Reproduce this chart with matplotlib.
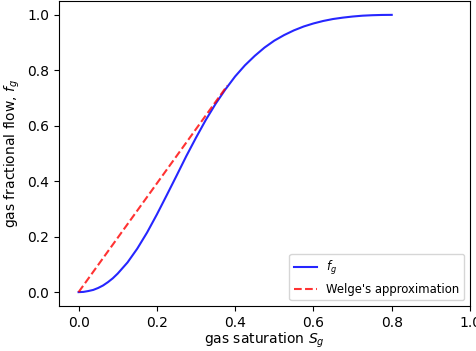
import numpy as np
import matplotlib
matplotlib.use('Agg')
import matplotlib.pyplot as plt

# values
sg = [0.0, 0.0125, 0.025, 0.0375, 0.05, 0.0625, 0.075, 0.0875, 0.1, 0.125,
      0.15, 0.175, 0.2, 0.225, 0.25, 0.275, 0.3, 0.325, 0.35, 0.375, 0.4,
      0.425, 0.45, 0.475, 0.5, 0.525, 0.55, 0.575, 0.6, 0.625, 0.65, 0.675,
      0.7, 0.725, 0.75, 0.775, 0.8]
fg = [0.0, 0.0009, 0.004, 0.008, 0.015, 0.024, 0.036, 0.050, 0.067, 0.107,
      0.157, 0.215, 0.280, 0.349, 0.419, 0.490, 0.557, 0.621, 0.679, 0.731,
      0.778, 0.818, 0.852, 0.882, 0.907, 0.927, 0.944, 0.958, 0.969, 0.978,
      0.985, 0.990, 0.994, 0.997, 0.9987, 0.9997, 1.0]

welge_s = [0.0, 0.38]
welge_f = [0.0, 0.745]

fig = plt.figure(figsize=(4.76, 3.51), dpi=100)
ax = fig.add_axes([59/476, 45/351, 411/476, 305/351])

ax.plot(sg, fg, color='b', alpha=0.85, lw=1.5, label='$f_g$')
ax.plot(welge_s, welge_f, 'r--', alpha=0.8, lw=1.5, label="Welge's approximation")

ax.set_xlim(-0.05, 1.0)
ax.set_ylim(-0.05, 1.05)
ax.set_xlabel('gas saturation $S_g$', labelpad=1)
ax.set_ylabel('gas fractional flow, $f_g$')
ax.legend(loc='lower right', fontsize='small')

fig.savefig('out.png', dpi=100)
